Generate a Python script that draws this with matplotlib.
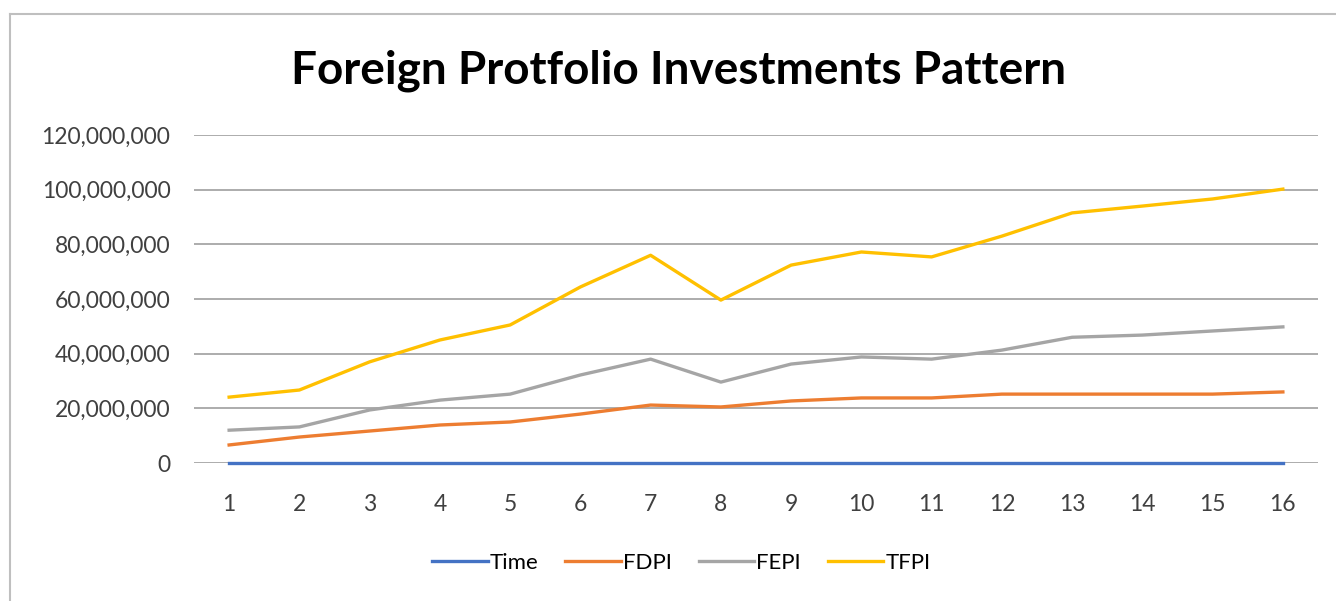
import matplotlib.pyplot as plt
from matplotlib.lines import Line2D
from matplotlib.ticker import FuncFormatter

# Data
periods = list(range(1, 17))
time_vals = periods
fdpi = [6.6e6, 9.5e6, 11.7e6, 13.9e6, 15.0e6, 17.9e6, 21.2e6, 20.5e6,
        22.7e6, 23.8e6, 23.8e6, 25.2e6, 25.2e6, 25.2e6, 25.2e6, 26.0e6]
fepi = [12.0e6, 13.2e6, 19.4e6, 23.0e6, 25.2e6, 32.2e6, 38.0e6, 29.6e6,
        36.2e6, 38.8e6, 38.0e6, 41.3e6, 46.0e6, 46.8e6, 48.3e6, 49.8e6]
tfpi = [24.1e6, 26.7e6, 37.0e6, 45.0e6, 50.5e6, 64.4e6, 76.0e6, 59.6e6,
        72.4e6, 77.2e6, 75.4e6, 83.0e6, 91.5e6, 94.0e6, 96.6e6, 100.2e6]

plt.rcParams['font.family'] = ['Lato', 'DejaVu Sans']

fig = plt.figure(figsize=(13.36, 6.01), dpi=100)
ax = fig.add_axes([194 / 1336, 1 - 463 / 601, (1318 - 194) / 1336, (463 - 135) / 601])

ax.plot(periods, time_vals, color='#4472C4', lw=2.4, label='Time', clip_on=False)
ax.plot(periods, fdpi, color='#ED7D31', lw=2.4, label='FDPI')
ax.plot(periods, fepi, color='#A5A5A5', lw=2.4, label='FEPI')
ax.plot(periods, tfpi, color='#FFC000', lw=2.4, label='TFPI')

ax.set_xlim(0.5, 16.5)
ax.set_ylim(0, 120e6)
ax.set_xticks(periods)
ax.set_yticks(range(0, 120000001, 20000000))
ax.yaxis.set_major_formatter(FuncFormatter(lambda v, p: f'{int(v):,}'))
ax.grid(axis='y', color='#a6a6a6', lw=1.3)
ax.set_axisbelow(True)
for s in ax.spines.values():
    s.set_visible(False)
ax.tick_params(length=0, labelsize=16.5, colors='#404040')
ax.tick_params(axis='y', pad=17)
ax.tick_params(axis='x', pad=22)

fig.text(0.508, 0.882, 'Foreign Protfolio Investments Pattern', ha='center', va='center',
         fontsize=33, fontweight='bold', color='black')

fig.legend(loc='center', bbox_to_anchor=(0.51, 0.063), ncol=4, frameon=False,
           fontsize=16, handlelength=2.5, columnspacing=1.2, handletextpad=0.1)

# outer chart border (left and top)
fig.add_artist(Line2D([10 / 1336, 10 / 1336], [0, 1 - 14 / 601], color='#bfbfbf', lw=1.5))
fig.add_artist(Line2D([10 / 1336, 1], [1 - 14 / 601, 1 - 14 / 601], color='#bfbfbf', lw=1.5))

fig.savefig('out.png', dpi=100)
